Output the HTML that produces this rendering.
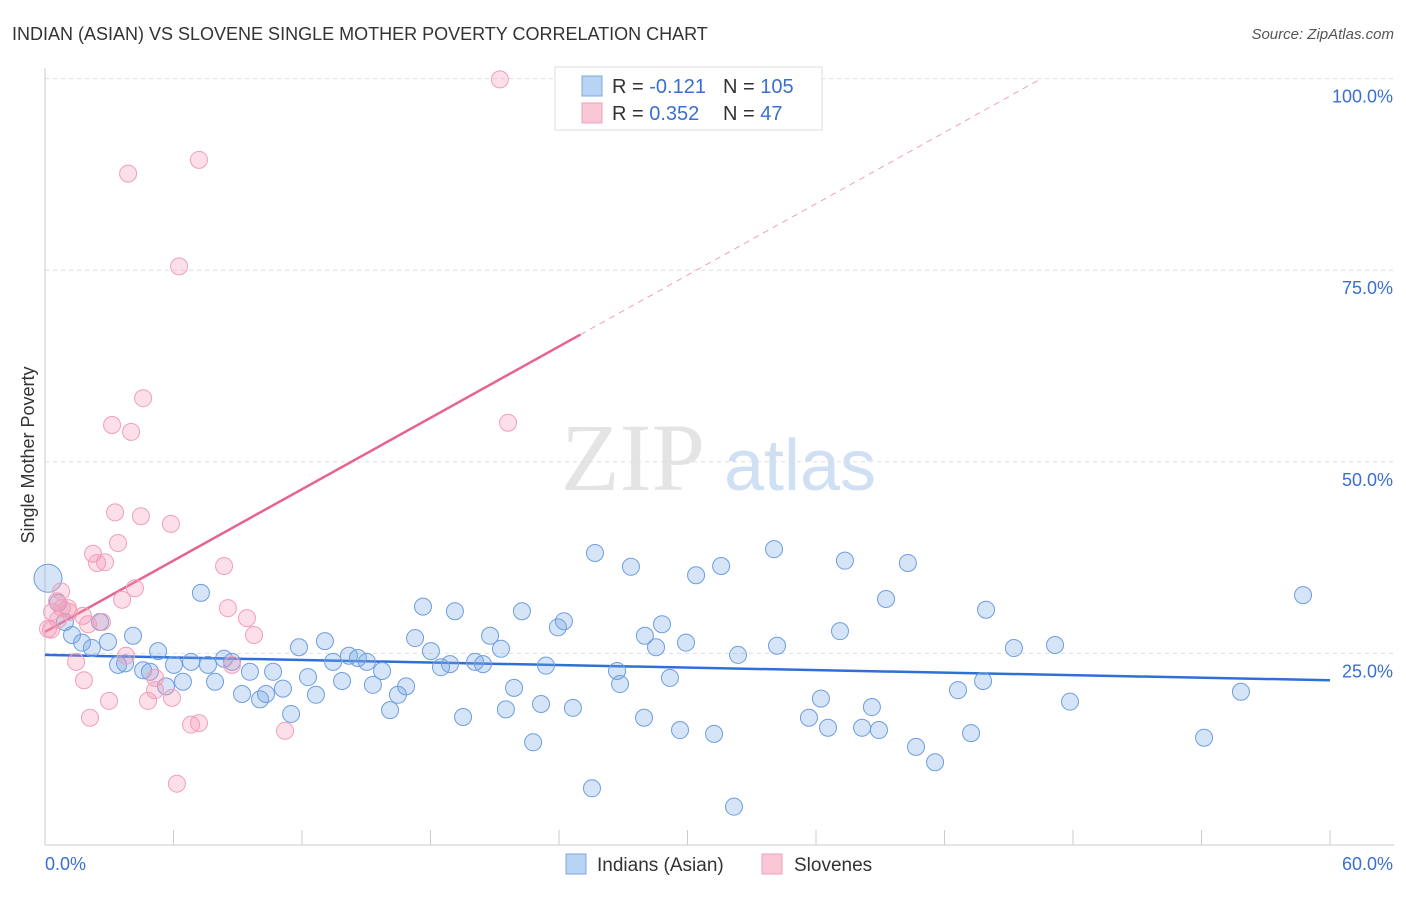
<!DOCTYPE html>
<html><head><meta charset="utf-8"><style>
body{margin:0;background:#fff;font-family:"Liberation Sans",sans-serif;}
svg text{font-family:"Liberation Sans",sans-serif;}
</style></head><body>
<svg id="chart" width="1406" height="892" viewBox="0 0 1406 892">
<text x="12" y="40" font-size="18" fill="#333">INDIAN (ASIAN) VS SLOVENE SINGLE MOTHER POVERTY CORRELATION CHART</text>
<text x="1394" y="39" font-size="15" fill="#555" font-style="italic" text-anchor="end">Source: ZipAtlas.com</text>
<text transform="translate(34,455) rotate(-90)" font-size="18" fill="#333" text-anchor="middle">Single Mother Poverty</text>
<g>
<text x="633" y="490" font-size="96" font-family="Liberation Serif,serif" fill="#e4e4e4" text-anchor="middle" style="font-family:'Liberation Serif',serif">ZIP</text>
<text x="800" y="490" font-size="72" fill="#cfe0f4" text-anchor="middle">atlas</text>
</g>
<g id="grid"></g><g id="axes"></g><g id="trend"></g><g id="pts"></g>
<g>
<rect x="555" y="67" width="267" height="63" fill="#fff" stroke="#ddd"/>
<rect x="582" y="76" width="20" height="20" fill="#b9d3f5" stroke="#7aa7e0"/>
<rect x="582" y="103" width="20" height="20" fill="#f9c7d6" stroke="#f0a0b8"/>
<text x="612" y="93" font-size="20" fill="#333">R = <tspan fill="#3a6fd0">-0.121</tspan></text>
<text x="723" y="93" font-size="20" fill="#333">N = <tspan fill="#3a6fd0">105</tspan></text>
<text x="612" y="120" font-size="20" fill="#333">R = <tspan fill="#3a6fd0"> 0.352</tspan></text>
<text x="723" y="120" font-size="20" fill="#333">N = <tspan fill="#3a6fd0">  47</tspan></text>
</g>
<g>
<rect x="566" y="854" width="20" height="20" fill="#b9d3f5" stroke="#7aa7e0"/>
<text x="597" y="871" font-size="19" fill="#333">Indians (Asian)</text>
<rect x="762" y="854" width="20" height="20" fill="#f9c7d6" stroke="#f0a0b8"/>
<text x="794" y="871" font-size="19" fill="#333">Slovenes</text>
</g>
</svg>
<script>
const blueX=[0.14,0.61,0.93,1.26,1.73,2.19,2.57,2.94,3.41,3.74,4.11,4.58,4.90,5.28,5.65,6.02,6.44,6.82,7.28,7.61,7.94,8.36,8.73,9.20,9.57,10.04,10.32,10.65,11.11,11.49,11.86,12.28,12.65,13.07,13.45,13.87,14.19,14.61,15.03,15.31,15.74,16.11,16.48,16.86,17.28,17.65,18.02,18.49,18.91,19.14,19.52,20.08,20.45,20.78,21.29,21.52,21.90,22.27,22.79,23.16,23.39,23.95,24.23,24.65,25.54,25.68,26.71,26.85,27.36,27.97,28.01,28.53,28.81,29.18,29.65,29.93,30.40,31.24,31.57,32.17,32.36,34.04,34.18,35.67,36.23,36.56,37.12,37.35,38.15,38.61,38.94,39.27,40.29,40.67,41.56,42.63,43.24,43.80,43.94,45.24,47.16,47.86,54.12,55.84,58.74];
const blueY=[34.8,31.6,29.1,27.4,26.4,25.7,29.1,26.5,23.5,23.7,27.3,22.8,22.6,25.3,20.7,23.5,21.3,23.9,32.9,23.5,21.3,24.3,23.9,19.7,22.6,19.0,19.7,22.6,20.4,17.1,25.8,21.9,19.6,26.6,23.9,21.4,24.7,24.4,23.9,20.9,22.7,17.6,19.6,20.7,27.0,31.1,25.3,23.2,23.6,30.5,16.7,23.9,23.6,27.3,25.6,17.7,20.5,30.5,13.4,18.4,23.4,28.4,29.2,17.9,7.4,38.1,22.7,21.0,36.3,16.6,27.3,25.8,28.8,21.8,15.0,26.4,35.2,14.5,36.4,5.0,24.8,38.6,26.0,16.6,19.1,15.3,27.9,37.1,15.3,18.0,15.0,32.1,36.8,12.8,10.8,20.2,14.6,21.4,30.7,25.7,26.1,18.7,14.0,20.0,32.6];
const pinkX=[21.24,7.19,3.88,6.26,4.58,3.13,4.02,21.62,3.27,4.48,5.88,3.41,2.24,2.43,2.80,8.36,4.20,0.75,3.60,1.07,0.56,8.54,0.33,1.77,9.43,2.66,0.28,2.01,0.61,9.76,3.78,1.45,8.73,5.14,1.82,5.14,2.99,4.81,5.93,2.10,6.82,7.19,11.21,6.16,0.14,0.79,1.12];
const pinkY=[99.9,89.4,87.6,75.5,58.3,54.8,53.9,55.1,43.4,42.9,41.9,39.4,38.0,36.8,36.9,36.4,33.5,33.1,32.0,30.9,31.8,30.9,30.4,29.9,29.6,29.1,28.1,28.8,29.4,27.4,24.7,23.9,23.5,21.8,21.5,20.2,18.8,18.8,19.2,16.6,15.7,15.9,14.9,8.0,28.2,30.9,30.4];
const yTicks=[25,50,75,100];
const xTickLabels=["0.0%","60.0%"];
const blueTrend=[24.8,21.5];
const pinkTrend=[27.8,66.6,25];
const NS="http://www.w3.org/2000/svg";
const X=v=>45+v*(1285/60), Y=v=>845-v*7.664;
function mk(t,a,p){const e=document.createElementNS(NS,t);for(const k in a)e.setAttribute(k,a[k]);p.appendChild(e);return e;}
const grid=document.getElementById('grid'),axes=document.getElementById('axes'),trend=document.getElementById('trend'),pts=document.getElementById('pts');
yTicks.forEach(t=>{
 const l=mk('line',{x1:45,x2:1394,y1:Y(t),y2:Y(t),stroke:'#ddd','stroke-dasharray':'4,4'},grid);
 
 
 const tx=mk('text',{x:1393,y:Y(t)+24,'font-size':18,fill:'#3a6fd0','text-anchor':'end'},axes);
 tx.textContent=t.toFixed(1)+'%';
 
 
});
mk('line',{x1:45,x2:45,y1:68,y2:845,stroke:'#ccc'},axes);
mk('line',{x1:45,x2:1394,y1:845,y2:845,stroke:'#ccc'},axes);
for(let i=0;i<=10;i++){const l=mk('line',{x1:X(i*6),x2:X(i*6),y1:830,y2:845,stroke:'#ccc'},axes);
 
 }
[[0,45,'start'],[60,1393,'end']].forEach((d,i)=>{const t=mk('text',{x:d[1],y:870,'font-size':18,fill:'#3a6fd0','text-anchor':d[2]},axes);t.textContent=xTickLabels[i];
 
 });
const bt=mk('line',{x1:X(0),y1:Y(blueTrend[0]),x2:X(60),y2:Y(blueTrend[1]),stroke:'#2f6fd6','stroke-width':2.5},trend);


const slope=(pinkTrend[1]-pinkTrend[0])/pinkTrend[2];
const xe=(100-pinkTrend[0])/slope;
const pd=mk('line',{x1:X(pinkTrend[2]),y1:Y(pinkTrend[1]),x2:X(xe),y2:Y(100),stroke:'#f0a0b8','stroke-width':1,'stroke-dasharray':'6,5'},trend);


const pt=mk('line',{x1:X(0),y1:Y(pinkTrend[0]),x2:X(pinkTrend[2]),y2:Y(pinkTrend[1]),stroke:'#e8638f','stroke-width':2.5},trend);


blueX.forEach((x,i)=>{const c=mk('circle',{cx:X(x),cy:Y(blueY[i]),r:i===0?14:8.5,fill:'rgba(120,165,230,0.3)',stroke:'#6d9ee0','stroke-width':1},pts);
 
 });
pinkX.forEach((x,i)=>{const c=mk('circle',{cx:X(x),cy:Y(pinkY[i]),r:8.5,fill:'rgba(245,150,180,0.3)',stroke:'#f0a0b8','stroke-width':1},pts);
 
 });
</script>
</body></html>
